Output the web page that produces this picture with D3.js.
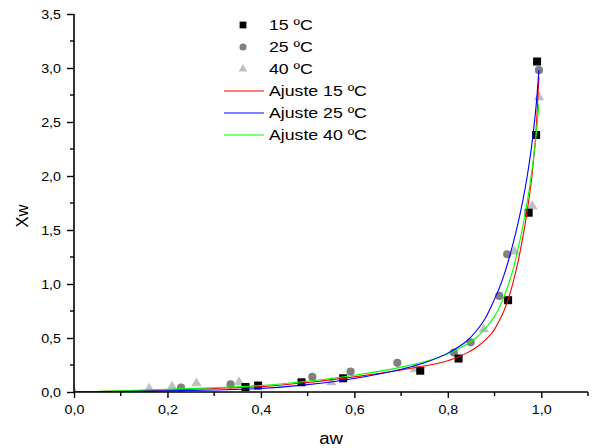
<!DOCTYPE html>
<html>
<head>
<meta charset="utf-8">
<script src="https://cdn.jsdelivr.net/npm/d3@7"></script>
<style>
  html, body { margin: 0; padding: 0; background: #fff; }
  svg { display: block; }
  text { font-family: "Liberation Sans", Arial, sans-serif; fill: #000; }
</style>
</head>
<body>
<svg id="chart" width="594" height="448"></svg>
<script>
// Measured sorption points: water activity (aw) and moisture content (Xw)
const aw15 = [0.367, 0.394, 0.487, 0.576, 0.741, 0.823, 0.929, 0.973, 0.989, 0.991];
const xw15 = [0.046, 0.06, 0.09, 0.127, 0.197, 0.31, 0.85, 1.66, 2.38, 3.06];

const aw25 = [0.229, 0.335, 0.51, 0.592, 0.692, 0.813, 0.849, 0.91, 0.927, 0.995];
const xw25 = [0.04, 0.07, 0.14, 0.19, 0.27, 0.365, 0.46, 0.89, 1.275, 2.98];

const aw40 = [0.0, 0.161, 0.21, 0.262, 0.353, 0.551, 0.73, 0.877, 0.943, 0.981, 0.995];
const xw40 = [0.0, 0.03, 0.05, 0.08, 0.09, 0.09, 0.21, 0.58, 1.3, 1.72, 2.73];

// Fitted isotherms, sampled on a common aw grid
const fitAw = [0, 0.1, 0.2, 0.3, 0.4, 0.5, 0.6, 0.7, 0.75, 0.8, 0.82, 0.84, 0.86, 0.88,
               0.9, 0.91, 0.92, 0.93, 0.94, 0.95, 0.96, 0.97, 0.98, 0.99, 0.995];
const fit15 = [0, 0.008, 0.02, 0.033, 0.05, 0.088, 0.14, 0.204, 0.24, 0.29, 0.32, 0.36, 0.41, 0.48,
               0.58, 0.66, 0.75, 0.87, 1.02, 1.2, 1.42, 1.68, 2.0, 2.5, 2.92];
const fit25 = [0, 0.004, 0.01, 0.018, 0.032, 0.068, 0.125, 0.21, 0.27, 0.36, 0.41, 0.47, 0.56, 0.68,
               0.86, 0.96, 1.08, 1.22, 1.38, 1.56, 1.76, 2.0, 2.3, 2.7, 2.98];
const fit40 = [0, 0.01, 0.025, 0.04, 0.06, 0.1, 0.155, 0.23, 0.28, 0.355, 0.395, 0.44, 0.5, 0.59,
               0.7, 0.78, 0.88, 1.0, 1.14, 1.32, 1.52, 1.76, 2.05, 2.42, 2.67];

// Axis ticks
const xMajorTicks = [0, 0.2, 0.4, 0.6, 0.8, 1.0];
const xMinorTicks = [0.1, 0.3, 0.5, 0.7, 0.9, 1.1];
const yMajorTicks = [0, 0.5, 1.0, 1.5, 2.0, 2.5, 3.0, 3.5];
const yMinorTicks = [0.25, 0.75, 1.25, 1.75, 2.25, 2.75, 3.25];

const seriesLabels = ["15 ºC", "25 ºC", "40 ºC"];
const fitLabels = ["Ajuste 15 ºC", "Ajuste 25 ºC", "Ajuste 40 ºC"];
const xTitle = "aw";
const yTitle = "Xw";

// ---- layout ----
const svg = d3.select("#chart");
const plotLeft = 74, plotRight = 588, plotTop = 14, plotBottom = 392;

const x = d3.scaleLinear().domain([0, 1.1]).range([plotLeft, plotRight]);
const y = d3.scaleLinear().domain([0, 3.5]).range([plotBottom, plotTop]);

const comma = d3.formatLocale({decimal: ",", thousands: ".", grouping: [3], currency: ["", ""]}).format(".1f");

// stretch text horizontally around its anchor point
function stretchText(sel, s) {
  sel.each(function () {
    const t = d3.select(this);
    const tx = +t.attr("x") || 0;
    const ty = +t.attr("y") || 0;
    t.attr("x", 0).attr("y", 0)
     .attr("transform", `translate(${tx},${ty}) scale(${s},1)`);
  });
}

// clip for the plotted marks
svg.append("defs").append("clipPath").attr("id", "plot-clip")
  .append("rect").attr("x", plotLeft).attr("y", plotTop - 10)
  .attr("width", plotRight - plotLeft + 10).attr("height", plotBottom - plotTop + 10);

const plot = svg.append("g").attr("clip-path", "url(#plot-clip)");

// markers
const sym15 = d3.symbol().type(d3.symbolSquare).size(64);
const sym25 = d3.symbol().type(d3.symbolCircle).size(52);
const sym40 = d3.symbol().type(d3.symbolTriangle).size(46);

plot.append("g").selectAll("path")
  .data(d3.zip(aw40, xw40)).join("path")
  .attr("d", sym40())
  .attr("transform", d => `translate(${x(d[0])},${y(d[1])})`)
  .attr("fill", "#c0c0c0");

plot.append("g").selectAll("path")
  .data(d3.zip(aw25, xw25)).join("path")
  .attr("d", sym25())
  .attr("transform", d => `translate(${x(d[0])},${y(d[1])})`)
  .attr("fill", "#808080");

plot.append("g").selectAll("path")
  .data(d3.zip(aw15, xw15)).join("path")
  .attr("d", sym15())
  .attr("transform", d => `translate(${x(d[0])},${y(d[1])})`)
  .attr("fill", "#000");

// fitted curves
const line = d3.line().x(d => x(d[0])).y(d => y(d[1])).curve(d3.curveMonotoneX);
const fits = [
  {vals: fit15, color: "#ff0000"},
  {vals: fit40, color: "#00ff00"},
  {vals: fit25, color: "#0000ff"}
];
fits.forEach(f => {
  plot.append("path")
    .attr("d", line(d3.zip(fitAw, f.vals)))
    .attr("fill", "none")
    .attr("stroke", f.color)
    .attr("stroke-width", 1.1);
});

// ---- axes ----
const xAxis = svg.append("g").attr("transform", `translate(0,${plotBottom})`)
  .call(d3.axisBottom(x).tickValues(xMajorTicks).tickSize(6).tickPadding(7).tickFormat(comma));
xAxis.append("g").selectAll("line").data(xMinorTicks).join("line")
  .attr("x1", d => x(d)).attr("x2", d => x(d)).attr("y1", 0).attr("y2", 4)
  .attr("stroke", "#000").attr("stroke-width", 1.4);
xAxis.select(".domain").attr("d", `M${plotLeft},0H${plotRight}`);

const yAxis = svg.append("g").attr("transform", `translate(${plotLeft},0)`)
  .call(d3.axisLeft(y).tickValues(yMajorTicks).tickSize(7).tickPadding(6).tickFormat(comma));
yAxis.append("g").selectAll("line").data(yMinorTicks).join("line")
  .attr("y1", d => y(d)).attr("y2", d => y(d)).attr("x1", 0).attr("x2", -4)
  .attr("stroke", "#000").attr("stroke-width", 1.4);
yAxis.select(".domain").attr("d", `M0,${plotBottom}V${plotTop}`);

[xAxis, yAxis].forEach(a => {
  a.select(".domain").attr("stroke", "#000").attr("stroke-width", 1.6);
  a.selectAll(".tick line").attr("stroke", "#000").attr("stroke-width", 1.4);
  a.selectAll(".tick text").attr("font-size", 13)
    .attr("font-family", "Liberation Sans, Arial, sans-serif").attr("fill", "#000");
});
stretchText(xAxis.selectAll(".tick text"), 1.1);
stretchText(yAxis.selectAll(".tick text"), 1.1);

// axis titles
svg.append("text").attr("x", 331).attr("y", 444)
  .attr("text-anchor", "middle").attr("font-size", 16).text(xTitle)
  .call(s => stretchText(s, 1.16));
svg.append("text")
  .attr("transform", "translate(28,216) rotate(-90)")
  .attr("text-anchor", "middle").attr("font-size", 16.5).text(yTitle);

// ---- legend ----
const legend = svg.append("g");
const rowY = d => 25 + d * 22;
const symX = 243, textX = 269;
const legendSyms = [
  {sym: d3.symbol().type(d3.symbolSquare).size(46), fill: "#000"},
  {sym: d3.symbol().type(d3.symbolCircle).size(40), fill: "#808080"},
  {sym: d3.symbol().type(d3.symbolTriangle).size(32), fill: "#c0c0c0"}
];
legendSyms.forEach((s, i) => {
  legend.append("path").attr("d", s.sym())
    .attr("transform", `translate(${symX},${rowY(i)})`).attr("fill", s.fill);
  legend.append("text").attr("x", textX).attr("y", rowY(i)).attr("dy", "0.36em")
    .attr("font-size", 15).text(seriesLabels[i])
    .call(t => stretchText(t, 1.18));
});
const legendColors = ["#ff0000", "#0000ff", "#00ff00"];
fitLabels.forEach((lab, i) => {
  const yy = rowY(i + 3);
  legend.append("line").attr("x1", 224).attr("x2", 264).attr("y1", yy).attr("y2", yy)
    .attr("stroke", legendColors[i]).attr("stroke-width", 1.1);
  legend.append("text").attr("x", textX).attr("y", yy).attr("dy", "0.36em")
    .attr("font-size", 15).text(lab)
    .call(t => stretchText(t, 1.18));
});
</script>
</body>
</html>
